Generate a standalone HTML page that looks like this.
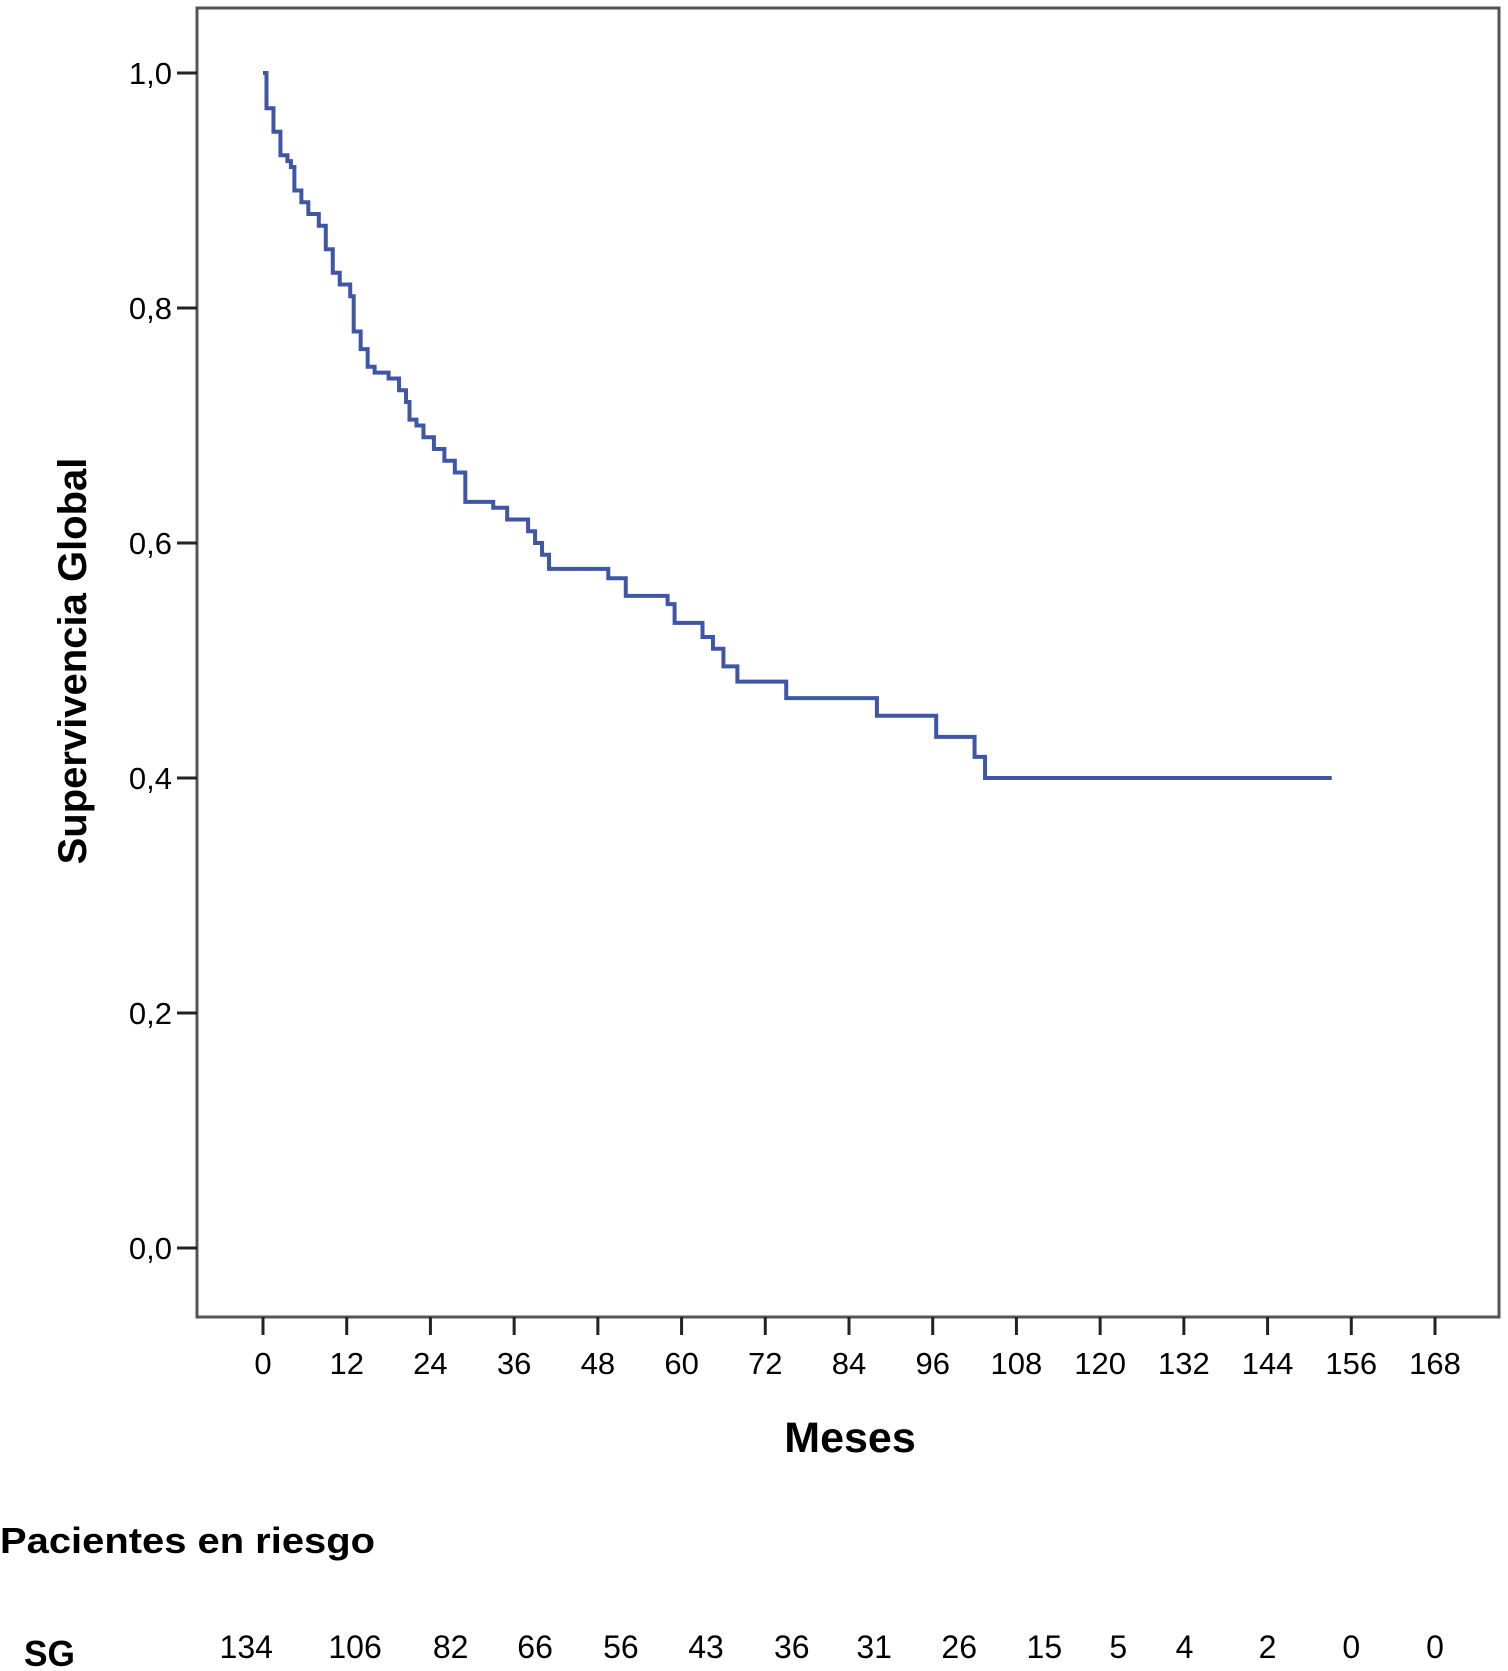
<!DOCTYPE html>
<html><head><meta charset="utf-8"><style>
html,body{margin:0;padding:0;background:#fff;}
svg{display:block;font-family:"Liberation Sans",sans-serif;}
</style></head><body>
<svg id="chart" width="1508" height="1671" viewBox="0 0 1508 1671" xmlns="http://www.w3.org/2000/svg">
<rect x="197" y="8" width="1302" height="1309" fill="none" stroke="#555" stroke-width="3"/>
<g id="yaxis"></g>
<g id="xaxis"></g>
<path id="curve" fill="none" stroke="#3f55a5" stroke-width="4"/>
<text x="0" y="0" transform="translate(86,661) rotate(-90)" text-anchor="middle" font-size="40" font-weight="bold">Supervivencia Global</text>
<text x="850" y="1452" text-anchor="middle" font-size="43" font-weight="bold">Meses</text>
<text x="0" y="1553" font-size="36" font-weight="bold" textLength="375" lengthAdjust="spacingAndGlyphs">Pacientes en riesgo</text>
<text x="24" y="1666" font-size="36" font-weight="bold" textLength="51" lengthAdjust="spacingAndGlyphs">SG</text>
<g id="risk"></g>
</svg>
<script>
const yTicks = [0, 0.2, 0.4, 0.6, 0.8, 1.0];
const yTickLabels = ["0,0","0,2","0,4","0,6","0,8","1,0"];
const xTicks = [0,12,24,36,48,60,72,84,96,108,120,132,144,156,168];
const riskTimes = [-2.4,13.2,26.9,39,51.3,63.5,75.8,87.6,99.8,112,122.6,132.1,144,156,168];
const riskCounts = [134,106,82,66,56,43,36,31,26,15,5,4,2,0,0];
const times = [0,0.5,1.5,2.5,3.5,4,4.5,5.5,6.5,8,9,10,11,12.5,13,14,15,16,18,19.5,20.5,21,22,23,24.5,26,27.5,29,33,35,38,39,40,41,49.5,52,58,59,63,64.5,66,68,75,88,96.5,102,103.5];
const surv = [1.0,0.97,0.95,0.93,0.925,0.92,0.90,0.89,0.88,0.87,0.85,0.83,0.82,0.81,0.78,0.765,0.75,0.745,0.74,0.73,0.72,0.705,0.70,0.69,0.68,0.67,0.66,0.635,0.63,0.62,0.61,0.60,0.59,0.578,0.57,0.555,0.548,0.532,0.52,0.51,0.495,0.482,0.468,0.453,0.435,0.418,0.40];
const endTime = 153.2;

const NS="http://www.w3.org/2000/svg";
const X = t => 263 + t*(1435-263)/168;
const Y = v => 1248 - v*(1248-73);
function mk(tag, attrs, parent, txt){const e=document.createElementNS(NS,tag);for(const k in attrs)e.setAttribute(k,attrs[k]);if(txt!==undefined)e.textContent=txt;parent.appendChild(e);return e;}
const ya=document.getElementById('yaxis'), xa=document.getElementById('xaxis'), rk=document.getElementById('risk');
yTicks.forEach((v,i)=>{
  const l=mk('line',{x1:177,x2:197,y1:Y(v),y2:Y(v),stroke:'#222','stroke-width':3},ya);
  
  
  const t=mk('text',{x:172,y:Y(v)+11,'text-anchor':'end','font-size':31},ya,yTickLabels[i]);
  
  
});
xTicks.forEach(v=>{
  const l=mk('line',{x1:X(v),x2:X(v),y1:1317,y2:1335,stroke:'#222','stroke-width':3},xa);
  
  
  const t=mk('text',{x:X(v),y:1374,'text-anchor':'middle','font-size':31},xa,String(v));
  
  
});
riskCounts.forEach((c,i)=>{
  const t=mk('text',{x:X(riskTimes[i]),y:1658,'text-anchor':'middle','font-size':32},rk,String(c));
  
  
});
let d='M'+X(times[0])+','+Y(surv[0]);
for(let i=1;i<times.length;i++){d+=' H'+X(times[i])+' V'+Y(surv[i]);}
d+=' H'+X(endTime);
document.getElementById('curve').setAttribute('d',d);
</script>
</body></html>
